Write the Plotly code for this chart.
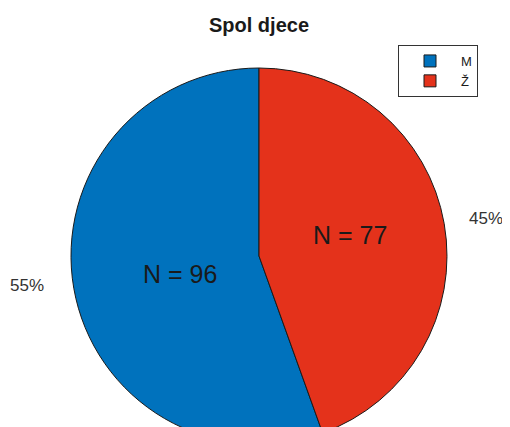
import math
import plotly.graph_objects as go

# ---- data ----
categories = ["M", "Ž"]
counts = [96, 77]
colors = ["#0072BD", "#E4321B"]
title_text = "Spol djece"

# The page adds an 8px body margin; the figure is made taller than the
# window so the bottom of the pie is cropped as in the reference.
OFF = 8
W, H = 510, 470
ML, MR, MT, MB = 0, 8, 60, 34
PW, PH = W - ML - MR, H - MT - MB

total = sum(counts)
pcts = [math.floor(c / total * 100 + 0.5) for c in counts]

# first slice (M) ends at 12 o'clock and runs clockwise from below-left
rot = 360 - counts[0] / total * 360

fig = go.Figure(go.Pie(
    labels=categories,
    values=counts,
    sort=False,
    direction="clockwise",
    rotation=rot,
    marker=dict(colors=colors, line=dict(color="#1a1a1a", width=1)),
    textinfo="none",
    hoverinfo="label+value+percent",
    domain=dict(x=[0, 1], y=[0, 1]),
))


def to_paper(wx, wy):
    # window pixel -> paper coords
    fx, fy = wx - OFF, wy - OFF
    return (fx - ML) / PW, (H - MB - fy) / PH


FONT = "Liberation Sans, Arial, Helvetica, sans-serif"
annotations = []

pct_pos = [(27, 285), (486, 218)]
for p, (px, py) in zip(pcts, pct_pos):
    x, y = to_paper(px, py)
    annotations.append(dict(x=x, y=y, xref="paper", yref="paper", text=f"{p}%",
                            showarrow=False, xanchor="center", yanchor="middle",
                            font=dict(size=17, color="#333333", family=FONT)))

n_pos = [(180, 274), (350, 235)]
for c, (px, py) in zip(counts, n_pos):
    x, y = to_paper(px, py)
    annotations.append(dict(x=x, y=y, xref="paper", yref="paper", text=f"N = {c}",
                            showarrow=False, xanchor="center", yanchor="middle",
                            font=dict(size=25, color="#1a1a1a", family=FONT)))

lx, ly = to_paper(478, 45)

fig.update_layout(
    width=W, height=H,
    margin=dict(l=ML, r=MR, t=MT, b=MB),
    paper_bgcolor="white",
    plot_bgcolor="white",
    title=dict(text=f"<b>{title_text}</b>", x=(259 - OFF) / W, xanchor="center",
               y=1 - (25 - OFF) / H, yanchor="middle",
               font=dict(size=20, color="#1a1a1a", family=FONT)),
    showlegend=True,
    legend=dict(x=lx, xanchor="right", y=ly, yanchor="top",
                bgcolor="white", bordercolor="#333333", borderwidth=1,
                font=dict(size=13, color="#1a1a1a", family=FONT),
                itemwidth=52, tracegroupgap=0),
    annotations=annotations,
)

fig.write_html("out.html")
